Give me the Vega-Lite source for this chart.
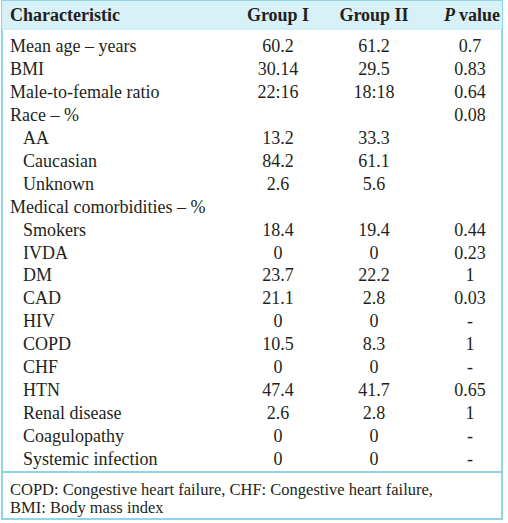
{
  "$schema": "https://vega.github.io/schema/vega-lite/v6.json",
  "width": 500,
  "height": 518,
  "padding": 1,
  "background": "white",
  "view": {"stroke": "#8dd5e7", "strokeWidth": 2, "fill": "white"},
  "config": {"text": {"font": "Liberation Serif", "fontSize": 18, "color": "#231f20", "baseline": "alphabetic"}},
  "datasets": {
    "rows": [
      {"row": 1, "level": 0, "characteristic": "Mean age – years", "Group I": "60.2", "Group II": "61.2", "P value": "0.7"},
      {"row": 2, "level": 0, "characteristic": "BMI", "Group I": "30.14", "Group II": "29.5", "P value": "0.83"},
      {"row": 3, "level": 0, "characteristic": "Male-to-female ratio", "Group I": "22:16", "Group II": "18:18", "P value": "0.64"},
      {"row": 4, "level": 0, "characteristic": "Race – %", "Group I": "", "Group II": "", "P value": "0.08"},
      {"row": 5, "level": 1, "characteristic": "AA", "Group I": "13.2", "Group II": "33.3", "P value": ""},
      {"row": 6, "level": 1, "characteristic": "Caucasian", "Group I": "84.2", "Group II": "61.1", "P value": ""},
      {"row": 7, "level": 1, "characteristic": "Unknown", "Group I": "2.6", "Group II": "5.6", "P value": ""},
      {"row": 8, "level": 0, "characteristic": "Medical comorbidities – %", "Group I": "", "Group II": "", "P value": ""},
      {"row": 9, "level": 1, "characteristic": "Smokers", "Group I": "18.4", "Group II": "19.4", "P value": "0.44"},
      {"row": 10, "level": 1, "characteristic": "IVDA", "Group I": "0", "Group II": "0", "P value": "0.23"},
      {"row": 11, "level": 1, "characteristic": "DM", "Group I": "23.7", "Group II": "22.2", "P value": "1"},
      {"row": 12, "level": 1, "characteristic": "CAD", "Group I": "21.1", "Group II": "2.8", "P value": "0.03"},
      {"row": 13, "level": 1, "characteristic": "HIV", "Group I": "0", "Group II": "0", "P value": "-"},
      {"row": 14, "level": 1, "characteristic": "COPD", "Group I": "10.5", "Group II": "8.3", "P value": "1"},
      {"row": 15, "level": 1, "characteristic": "CHF", "Group I": "0", "Group II": "0", "P value": "-"},
      {"row": 16, "level": 1, "characteristic": "HTN", "Group I": "47.4", "Group II": "41.7", "P value": "0.65"},
      {"row": 17, "level": 1, "characteristic": "Renal disease", "Group I": "2.6", "Group II": "2.8", "P value": "1"},
      {"row": 18, "level": 1, "characteristic": "Coagulopathy", "Group I": "0", "Group II": "0", "P value": "-"},
      {"row": 19, "level": 1, "characteristic": "Systemic infection", "Group I": "0", "Group II": "0", "P value": "-"}
    ],
    "header": [
      {"row": 0, "column": 0, "label": "Characteristic"},
      {"row": 0, "column": 1, "label": "Group I"},
      {"row": 0, "column": 2, "label": "Group II"},
      {"row": 0, "column": 3, "label": "P value"}
    ],
    "footnote": [
      {"row": 20, "column": 0, "note": ["COPD: Congestive heart failure, CHF: Congestive heart failure,", "BMI: Body mass index"]}
    ]
  },
  "encoding": {
    "y": {"field": "row", "type": "quantitative", "scale": {"domain": [-1.2222, 21.349], "reverse": true, "nice": false, "zero": false}, "axis": null}
  },
  "layer": [
    {
      "data": {"name": "header"},
      "transform": [{"filter": "datum.column == 0"}],
      "mark": {"type": "rect", "fill": "#d8f0f7"},
      "encoding": {
        "x": {"value": 0},
        "x2": {"value": "width"},
        "y2": {"value": 0}
      }
    },
    {
      "data": {"name": "header"},
      "transform": [{"filter": "datum.column == 0"}],
      "mark": {"type": "rule", "stroke": "#b5e4ef", "strokeWidth": 1},
      "encoding": {
        "x": {"value": 0},
        "x2": {"value": "width"}
      }
    },
    {
      "data": {"name": "footnote"},
      "mark": {"type": "rule", "stroke": "#8dd5e7", "strokeWidth": 2},
      "encoding": {
        "x": {"value": 0},
        "x2": {"value": "width"},
        "y": {"datum": 19.3}
      }
    },
    {
      "data": {"name": "header"},
      "transform": [{"filter": "datum.column == 0"}],
      "mark": {"type": "text", "font": "Liberation Serif", "fontSize": 18, "fontWeight": "bold", "align": "left", "baseline": "alphabetic", "dy": -8},
      "encoding": {
        "x": {"field": "column", "type": "quantitative", "scale": {"domain": [0, 1, 2, 3], "range": [8, 276, 372, 468], "nice": false, "zero": false}, "axis": null},
        "text": {"field": "label"}
      }
    },
    {
      "data": {"name": "header"},
      "transform": [{"filter": "datum.column == 1 || datum.column == 2"}],
      "mark": {"type": "text", "font": "Liberation Serif", "fontSize": 18, "fontWeight": "bold", "align": "center", "baseline": "alphabetic", "dy": -8},
      "encoding": {
        "x": {"field": "column", "type": "quantitative"},
        "text": {"field": "label"}
      }
    },
    {
      "data": {"name": "header"},
      "transform": [{"filter": "datum.column == 3"}],
      "mark": {"type": "text", "font": "Liberation Serif", "fontSize": 18, "fontWeight": "bold", "fontStyle": "italic", "align": "right", "baseline": "alphabetic", "dx": -15, "dy": -8},
      "encoding": {
        "x": {"field": "column", "type": "quantitative"},
        "text": {"value": "P"}
      }
    },
    {
      "data": {"name": "header"},
      "transform": [{"filter": "datum.column == 3"}],
      "mark": {"type": "text", "font": "Liberation Serif", "fontSize": 18, "fontWeight": "bold", "align": "left", "baseline": "alphabetic", "dx": -11, "dy": -8},
      "encoding": {
        "x": {"field": "column", "type": "quantitative"},
        "text": {"value": "value"}
      }
    },
    {
      "data": {"name": "rows"},
      "transform": [{"filter": "datum.level == 0"}],
      "mark": {"type": "text", "font": "Liberation Serif", "fontSize": 18, "align": "left", "baseline": "alphabetic"},
      "encoding": {
        "x": {"datum": 0, "type": "quantitative"},
        "text": {"field": "characteristic"}
      }
    },
    {
      "data": {"name": "rows"},
      "transform": [{"filter": "datum.level == 1"}],
      "mark": {"type": "text", "font": "Liberation Serif", "fontSize": 18, "align": "left", "baseline": "alphabetic", "dx": 13},
      "encoding": {
        "x": {"datum": 0, "type": "quantitative"},
        "text": {"field": "characteristic"}
      }
    },
    {
      "data": {"name": "rows"},
      "mark": {"type": "text", "font": "Liberation Serif", "fontSize": 18, "align": "center", "baseline": "alphabetic"},
      "encoding": {
        "x": {"datum": 1, "type": "quantitative"},
        "text": {"field": "Group I"}
      }
    },
    {
      "data": {"name": "rows"},
      "mark": {"type": "text", "font": "Liberation Serif", "fontSize": 18, "align": "center", "baseline": "alphabetic"},
      "encoding": {
        "x": {"datum": 2, "type": "quantitative"},
        "text": {"field": "Group II"}
      }
    },
    {
      "data": {"name": "rows"},
      "mark": {"type": "text", "font": "Liberation Serif", "fontSize": 18, "align": "center", "baseline": "alphabetic"},
      "encoding": {
        "x": {"datum": 3, "type": "quantitative"},
        "text": {"field": "P value"}
      }
    },
    {
      "data": {"name": "footnote"},
      "mark": {"type": "text", "font": "Liberation Serif", "fontSize": 16.5, "align": "left", "baseline": "alphabetic", "dy": 7, "lineHeight": 18},
      "encoding": {
        "x": {"field": "column", "type": "quantitative"},
        "text": {"field": "note"}
      }
    }
  ]
}
